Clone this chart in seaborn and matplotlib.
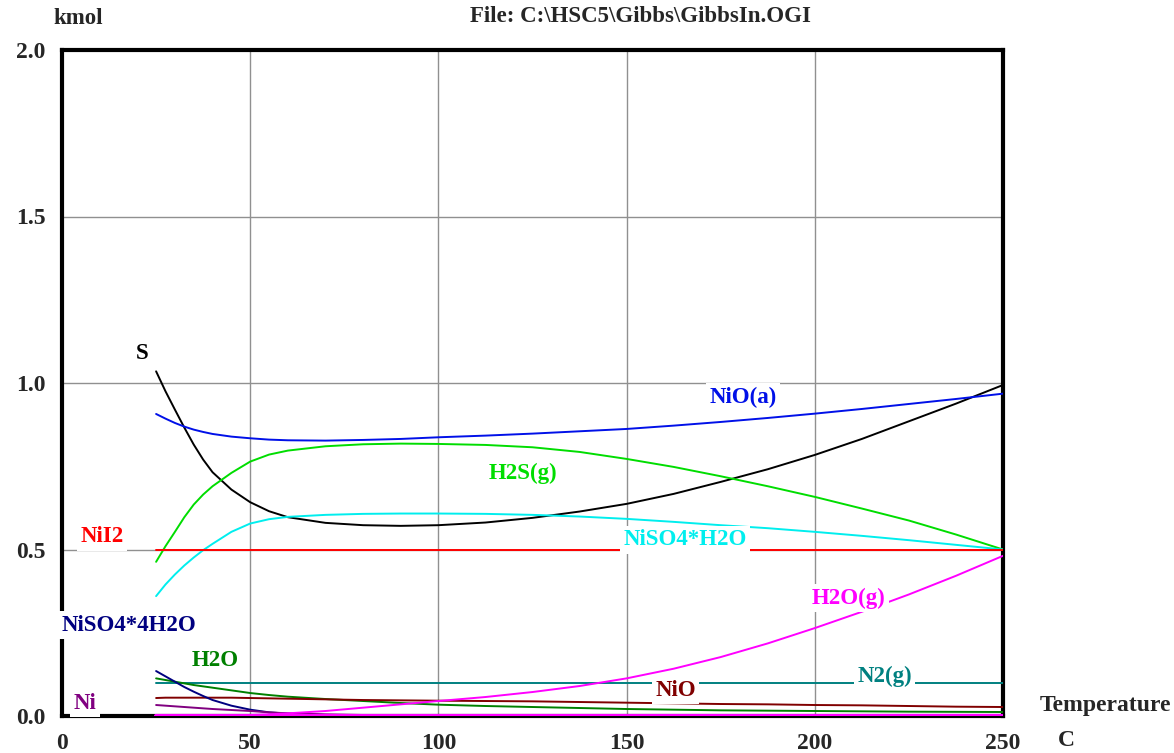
import pandas as pd
import matplotlib.pyplot as plt
import seaborn as sns

# temperature grid (C) and species amounts (kmol)
temps = [25, 27.5, 30, 32.5, 35, 37.5, 40, 45, 50, 55, 60, 70, 80, 90, 100,
         112.5, 125, 137.5, 150, 162.5, 175, 187.5, 200, 212.5, 225, 237.5, 250]

s_vals = [1.035, 0.975, 0.92, 0.866, 0.815, 0.77, 0.732, 0.68, 0.642, 0.615, 0.597, 0.58,
          0.573, 0.571, 0.573, 0.581, 0.595, 0.614, 0.637, 0.667, 0.703, 0.741, 0.784,
          0.832, 0.885, 0.938, 0.994]
nio_a = [0.907, 0.893, 0.88, 0.869, 0.86, 0.853, 0.847, 0.839, 0.834, 0.83, 0.828, 0.827,
         0.829, 0.832, 0.837, 0.842, 0.848, 0.855, 0.862, 0.872, 0.883, 0.895, 0.908,
         0.922, 0.937, 0.952, 0.968]
h2s_g = [0.463, 0.51, 0.553, 0.597, 0.635, 0.665, 0.69, 0.73, 0.764, 0.785, 0.797, 0.81,
         0.816, 0.818, 0.817, 0.814, 0.807, 0.793, 0.772, 0.748, 0.72, 0.69, 0.658,
         0.623, 0.587, 0.545, 0.5]
niso4_h2o = [0.36, 0.395, 0.425, 0.452, 0.476, 0.498, 0.517, 0.553, 0.578, 0.591, 0.598, 0.604,
             0.607, 0.608, 0.608, 0.607, 0.604, 0.599, 0.592, 0.583, 0.573, 0.564, 0.553,
             0.541, 0.528, 0.514, 0.5]
nii2 = [0.5] * len(temps)
h2o_g = [0.002, 0.002, 0.002, 0.002, 0.002, 0.002, 0.002, 0.002, 0.003, 0.005, 0.008, 0.015,
         0.025, 0.035, 0.045, 0.057, 0.072, 0.09, 0.113, 0.142, 0.177, 0.218, 0.264,
         0.313, 0.365, 0.421, 0.481]
trace = [0.0] * len(temps)
n2_g = [0.1] * len(temps)
h2o = [0.113, 0.108, 0.103, 0.098, 0.093, 0.089, 0.085, 0.077, 0.069, 0.063, 0.058, 0.051,
       0.045, 0.039, 0.034, 0.030, 0.027, 0.024, 0.021, 0.019, 0.017, 0.016, 0.015,
       0.014, 0.013, 0.0125, 0.012]
nio = [0.054, 0.055, 0.055, 0.055, 0.055, 0.055, 0.055, 0.055, 0.054, 0.053, 0.052, 0.05,
       0.048, 0.047, 0.046, 0.045, 0.044, 0.042, 0.04, 0.038, 0.036, 0.035, 0.033,
       0.032, 0.03, 0.028, 0.027]
niso4_4h2o = [0.135, 0.119, 0.103, 0.087, 0.073, 0.06, 0.048, 0.031, 0.019, 0.011, 0.007, 0.003,
              0.002, 0.001, 0.001, 0.001, 0.001, 0.001, 0.001, 0.001, 0.001, 0.001, 0.001,
              0.001, 0.001, 0.001, 0.001]
ni = [0.033, 0.031, 0.029, 0.027, 0.025, 0.023, 0.021, 0.018, 0.015, 0.011, 0.008, 0.005,
      0.003, 0.002, 0.001, 0.001, 0.001, 0.001, 0.001, 0.001, 0.001, 0.001, 0.001,
      0.001, 0.001, 0.001, 0.001]

series = {
    'S': s_vals, 'NiO(a)': nio_a, 'H2S(g)': h2s_g, 'NiSO4*H2O': niso4_h2o, 'NiI2': nii2,
    'N2(g)': n2_g, 'H2O': h2o, 'NiO': nio, 'NiSO4*4H2O': niso4_4h2o, 'Ni': ni,
    'trace': trace, 'H2O(g)': h2o_g,
}
colors = {
    'S': '#000000', 'NiO(a)': '#0010e8', 'H2S(g)': '#00dd00', 'NiSO4*H2O': '#00eeee',
    'NiI2': '#ff0000', 'H2O(g)': '#ff00ff', 'trace': '#ff00ff', 'N2(g)': '#008080',
    'H2O': '#008000', 'NiO': '#800000', 'NiSO4*4H2O': '#000080', 'Ni': '#800080',
}

# label text, position (data coords)
labels = [
    ('S', 21.3, 1.09), ('NiO(a)', 181.0, 0.958), ('H2S(g)', 122.5, 0.73),
    ('NiI2', 10.6, 0.538), ('NiSO4*H2O', 165.5, 0.529), ('H2O(g)', 209.0, 0.354),
    ('NiSO4*4H2O', 17.8, 0.273), ('H2O', 40.6, 0.168), ('N2(g)', 218.5, 0.12),
    ('NiO', 163.0, 0.078), ('Ni', 6.1, 0.039),
]

df = pd.DataFrame(series)
df['Temperature'] = temps
long_df = df.melt(id_vars='Temperature', var_name='Species', value_name='kmol')

sns.set_style('white')
plt.rcParams['font.family'] = ['Liberation Serif', 'DejaVu Serif']
plt.rcParams['font.weight'] = 'bold'

fig = plt.figure(figsize=(11.74, 7.53), dpi=100)
ax = fig.add_axes([62 / 1174, 37 / 753, 941 / 1174, 666 / 753])

for name in series:
    sub = long_df[long_df.Species == name]
    sns.lineplot(data=sub, x='Temperature', y='kmol', color=colors[name],
                 lw=3 if name == 'trace' else 1.4, ax=ax, legend=False, zorder=3)

for text, x, y in labels:
    ax.text(x, y, text, color=colors[text], fontsize=16.5, fontweight='bold',
            ha='center', va='center', zorder=6, clip_on=False,
            bbox=dict(facecolor='white', edgecolor='none', pad=2.5))

ax.set_xlim(0, 250)
ax.set_ylim(0, 2.0)
ax.set_xticks([0, 50, 100, 150, 200, 250])
ax.set_yticks([0, 0.5, 1.0, 1.5, 2.0])
ax.set_yticklabels(['0.0', '0.5', '1.0', '1.5', '2.0'])
ax.grid(True, color='#909090', lw=1)
ax.tick_params(length=0, pad=12, labelsize=17)
for lab in ax.get_xticklabels() + ax.get_yticklabels():
    lab.set_fontweight('bold')
for sp in ax.spines.values():
    sp.set_visible(True)
    sp.set_color('black')
    sp.set_linewidth(3)
ax.set_xlabel('')
ax.set_ylabel('')

def ftext(px, py, s, size=16.5):
    fig.text(px / 1174, 1 - py / 753, s, fontsize=size, fontweight='bold',
             ha='center', va='center')

ftext(78, 18, 'kmol')
ftext(641, 17, 'File: C:\\HSC5\\Gibbs\\GibbsIn.OGI')
ftext(1105, 705, 'Temperature', 17)
ftext(1066, 740, 'C', 17)

fig.savefig('out.png', dpi=100)
